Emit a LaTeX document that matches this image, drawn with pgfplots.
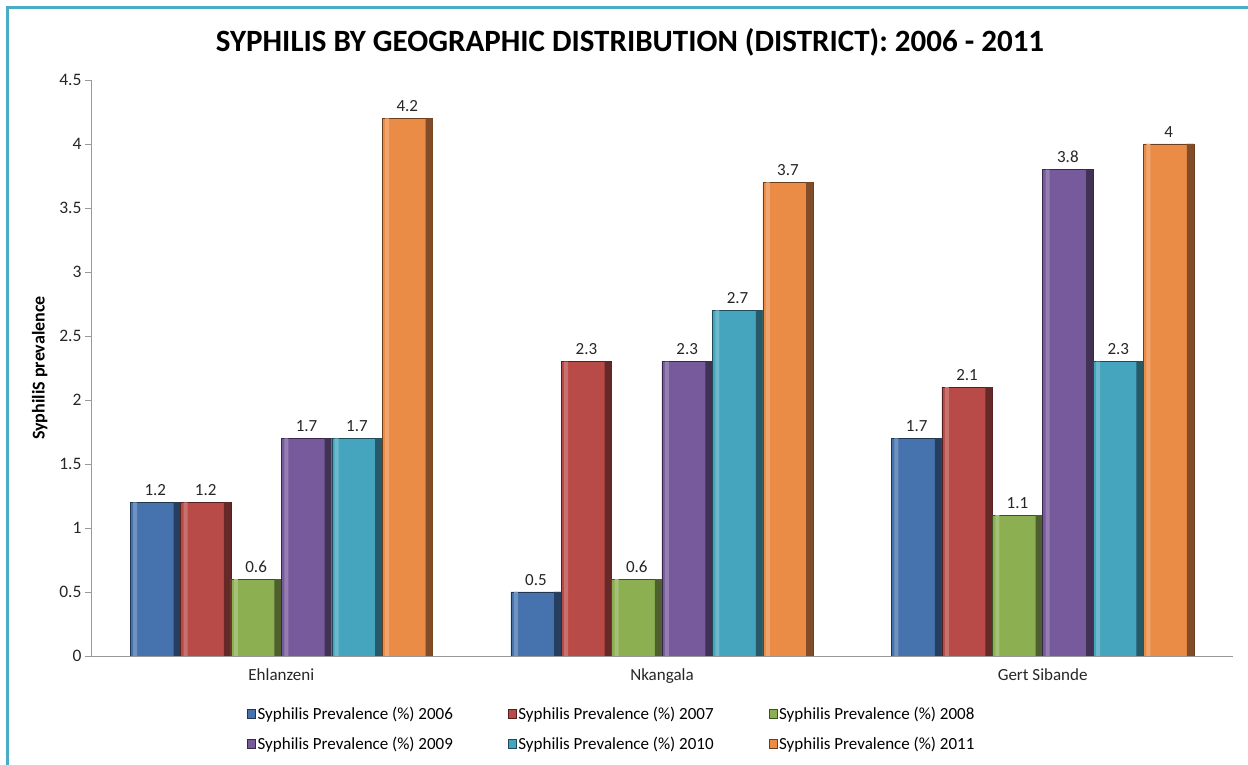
\documentclass[border=0pt]{standalone}
\usepackage{pgfplots}
\pgfplotsset{compat=1.18}
\usepackage{fontspec}
\setmainfont{Carlito}
\definecolor{c1}{HTML}{4673AD}
\definecolor{c2}{HTML}{B84A47}
\definecolor{c3}{HTML}{8CAF52}
\definecolor{c4}{HTML}{775A9B}
\definecolor{c5}{HTML}{45A4BE}
\definecolor{c6}{HTML}{EA8B46}
\definecolor{frame}{HTML}{4BACC6}
\pgfplotstableread{
x y06 y07 y08 y09 y10 y11
0 1.2 1.2 0.6 1.7 1.7 4.2
1 0.5 2.3 0.6 2.3 2.7 3.7
2 1.7 2.1 1.1 3.8 2.3 4.0
}\data
% #1 colour, #2 column, #3 centre shift, #4 left strip shift, #5 right strip shift
\newcommand\series[5]{%
\addplot[fill=#1, draw=#1!45!black, bar width=50.4pt, bar shift=#3pt, nodes near coords] table[x=x,y=#2] {\data};
\addplot[forget plot, fill=#1!78!white, draw=none, bar width=4pt, bar shift=#4pt] table[x=x,y=#2] {\data};
\addplot[forget plot, fill=#1!55!black, draw=none, bar width=7pt, bar shift=#5pt] table[x=x,y=#2] {\data};
}
\begin{document}
\begin{tikzpicture}[x=1pt,y=1pt]
\useasboundingbox (0,0) rectangle (1248,765);
\fill[white] (0,0) rectangle (1248,765);
\draw[color=frame, line width=3pt] (7,-2) -- (7,757) -- (1250,757);
\node[font=\fontsize{31}{36}\selectfont\bfseries] at (630,723) {SYPHILIS BY GEOGRAPHIC DISTRIBUTION (DISTRICT): 2006 - 2011};
\begin{axis}[
  at={(91pt,109pt)}, anchor=south west,
  scale only axis, width=1142pt, height=576pt,
  xmin=-0.5, xmax=2.5, ymin=0, ymax=4.5,
  ybar=0pt,
  axis x line=bottom, axis y line=left,
  axis line style={-, draw=gray!80},
  xtick={0,1,2}, xticklabels={Ehlanzeni,Nkangala,Gert Sibande},
  xtick style={draw=none},
  ytick={0,0.5,1,1.5,2,2.5,3,3.5,4,4.5},
  yticklabels={0,0.5,1,1.5,2,2.5,3,3.5,4,4.5},
  ytick style={draw=gray!80},
  tick align=outside, major tick length=6pt,
  ticklabel style={font=\fontsize{17.5}{20}\selectfont, text=black!85},
  x tick label style={yshift=-3pt, font=\fontsize{17}{20}\selectfont},
  /pgf/number format/assume math mode=true,
  ylabel={\bfseries SyphiliS prevalence},
  every axis y label/.style={at={(axis description cs:-0.045,0.5)}, rotate=90, anchor=center, font=\fontsize{18}{21}\selectfont},
  every node near coord/.append style={font=\fontsize{17}{20}\selectfont, text=black!85, yshift=3pt},
  legend columns=3,
  legend cell align=left,
  legend style={at={(0.134,-0.081)}, anchor=north west, draw=none, fill=none,
    font=\fontsize{17}{20}\selectfont, row sep=12pt,
    /tikz/every even column/.append style={column sep=53pt}},
  legend image code/.code={\draw[#1] (0pt,-4pt) rectangle (8pt,5pt);},
]
\series{c1}{y06}{-126}{-146.2}{-104.3}
\series{c2}{y07}{-75.6}{-95.8}{-53.9}
\series{c3}{y08}{-25.2}{-45.4}{-3.5}
\series{c4}{y09}{25.2}{5}{46.9}
\series{c5}{y10}{75.6}{55.4}{97.3}
\series{c6}{y11}{126}{105.8}{147.7}
\legend{Syphilis Prevalence (\%) 2006, Syphilis Prevalence (\%) 2007, Syphilis Prevalence (\%) 2008,
Syphilis Prevalence (\%) 2009, Syphilis Prevalence (\%) 2010, Syphilis Prevalence (\%) 2011}
\end{axis}
\end{tikzpicture}
\end{document}
